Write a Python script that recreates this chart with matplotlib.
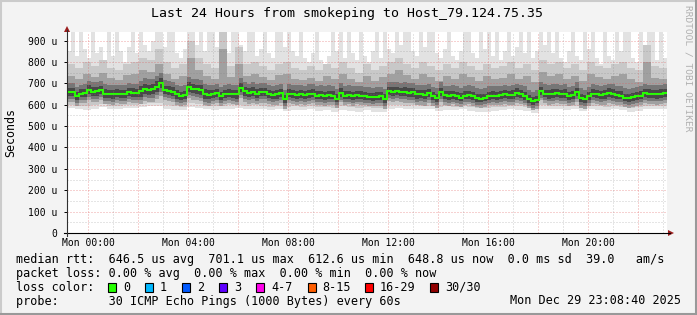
import numpy as np
import matplotlib
matplotlib.use("Agg")
import matplotlib.pyplot as plt
from matplotlib.patches import Rectangle, Polygon
from matplotlib.lines import Line2D

# ---------------- data ----------------
title = "Last 24 Hours from smokeping to Host_79.124.75.35"
y_label = "Seconds"
watermark = "RRDTOOL / TOBI OETIKER"
x_tick_hours = [0, 4, 8, 12, 16, 20]
x_tick_labels = ["Mon 00:00", "Mon 04:00", "Mon 08:00", "Mon 12:00", "Mon 16:00", "Mon 20:00"]
y_ticks = [0, 100, 200, 300, 400, 500, 600, 700, 800, 900]
y_tick_labels = ["0", "100 u", "200 u", "300 u", "400 u", "500 u", "600 u", "700 u", "800 u", "900 u"]
y_max = 940
window_start_hour = -(51 + 20 / 60) / 60   # Sun 23:08:40 relative to Mon 00:00
window_hours = 24

# median rtt (us), 150 steps over the 24h window
median = [660, 658, 640, 652, 655, 670, 660, 662, 668, 652,
          650, 648, 652, 650, 648, 660, 656, 654, 662, 675,
          670, 672, 685, 700, 668, 665, 660, 648, 640, 645,
          682, 675, 672, 668, 650, 646, 650, 655, 640, 648,
          652, 650, 648, 680, 662, 655, 660, 652, 658, 658,
          650, 646, 648, 655, 625, 652, 650, 646, 648, 645,
          650, 652, 643, 645, 640, 644, 642, 628, 655, 643,
          645, 640, 644, 642, 640, 637, 635, 638, 640, 628,
          662, 660, 662, 658, 660, 656, 658, 648, 650, 646,
          655, 640, 632, 660, 645, 642, 645, 640, 632, 643,
          645, 640, 630, 628, 632, 640, 642, 640, 645, 648,
          644, 646, 655, 650, 640, 625, 615, 622, 662, 650,
          648, 652, 654, 650, 652, 640, 645, 660, 632, 625,
          640, 652, 650, 645, 648, 655, 652, 645, 643, 632,
          630, 635, 640, 642, 655, 652, 650, 648, 652, 655]

# highest ping per step (us)
ping_max = [850, 960, 830, 960, 860, 820, 960, 840, 870, 810,
            960, 830, 960, 850, 800, 870, 960, 840, 960, 880,
            850, 900, 960, 960, 870, 960, 960, 840, 820, 860,
            960, 960, 880, 960, 850, 960, 960, 870, 960, 900,
            840, 960, 960, 880, 850, 960, 960, 830, 860, 960,
            840, 820, 960, 960, 870, 960, 850, 830, 960, 820,
            800, 840, 960, 810, 790, 830, 960, 850, 960, 820,
            960, 840, 810, 960, 830, 800, 850, 960, 820, 960,
            860, 840, 960, 880, 960, 960, 850, 830, 960, 870,
            960, 960, 840, 820, 860, 960, 830, 810, 850, 960,
            960, 840, 820, 960, 860, 960, 830, 960, 810, 850,
            960, 830, 870, 960, 840, 960, 820, 850, 960, 880,
            960, 840, 960, 820, 800, 850, 960, 830, 810, 960,
            860, 960, 820, 790, 960, 830, 810, 960, 850, 960,
            960, 820, 800, 960, 840, 960, 960, 810, 960, 820]

# 75 values (two steps each): ~93rd / ~85th / ~10th percentile and lowest ping (us)
ping_p93 = [790, 770, 800, 780, 810, 770, 760, 790, 800, 820,
            810, 860, 800, 770, 790, 900, 820, 790, 770, 940,
            780, 870, 790, 800, 780, 760, 790, 800, 770, 760,
            780, 760, 790, 770, 800, 770, 750, 790, 760, 780,
            800, 820, 790, 770, 800, 780, 760, 790, 770, 800,
            780, 760, 790, 770, 780, 800, 770, 790, 760, 810,
            790, 800, 770, 790, 760, 800, 780, 770, 790, 800,
            770, 760, 880, 780, 770]
ping_p85 = [735, 720, 745, 730, 750, 725, 715, 740, 745, 760,
            755, 790, 745, 720, 735, 820, 760, 735, 720, 860,
            730, 790, 735, 745, 730, 715, 740, 745, 720, 715,
            725, 712, 735, 720, 745, 718, 705, 735, 712, 728,
            745, 760, 738, 720, 742, 728, 712, 735, 718, 745,
            728, 710, 735, 718, 725, 745, 718, 735, 708, 755,
            735, 745, 718, 735, 710, 745, 728, 718, 735, 745,
            718, 708, 800, 725, 718]
ping_p10 = [600, 596, 592, 598, 602, 596, 594, 598, 600, 604,
            606, 610, 598, 592, 590, 606, 602, 596, 592, 596,
            598, 600, 594, 598, 596, 590, 594, 588, 592, 590,
            594, 588, 590, 586, 592, 588, 585, 590, 586, 584,
            598, 600, 596, 598, 594, 596, 588, 592, 590, 594,
            588, 586, 584, 588, 590, 594, 592, 588, 578, 598,
            594, 596, 592, 594, 588, 596, 592, 590, 594, 590,
            586, 588, 594, 596, 594]
ping_min = [585, 580, 575, 582, 588, 580, 578, 584, 586, 590,
            592, 594, 582, 576, 574, 590, 586, 580, 576, 580,
            582, 585, 578, 582, 580, 574, 578, 570, 576, 574,
            578, 570, 574, 568, 576, 570, 566, 574, 568, 566,
            582, 585, 580, 582, 578, 580, 572, 576, 574, 578,
            572, 568, 566, 570, 574, 578, 576, 570, 560, 582,
            578, 580, 576, 578, 570, 580, 576, 574, 578, 574,
            568, 570, 578, 580, 578]

# hourly spread of the inner percentiles around the median (us), 25 values
below_p25 = [46, 48, 46, 58, 48, 52, 46, 50, 48, 46, 46, 44, 42,
             46, 50, 46, 44, 42, 46, 42, 48, 46, 48, 44, 48]
below_p40 = [32, 34, 32, 40, 34, 36, 32, 34, 33, 32, 32, 31, 30,
             32, 34, 32, 31, 30, 32, 30, 33, 32, 33, 31, 33]
below_p45 = [18, 20, 18, 24, 20, 21, 18, 20, 19, 18, 18, 17, 16,
             18, 20, 18, 17, 16, 18, 16, 19, 18, 19, 17, 19]
above_p55 = [20, 21, 20, 24, 21, 22, 20, 21, 20, 20, 21, 21, 20,
             21, 21, 20, 21, 20, 21, 20, 21, 20, 21, 20, 20]
above_p75 = [42, 44, 42, 48, 46, 46, 44, 44, 42, 44, 46, 46, 44,
             44, 44, 44, 46, 46, 44, 46, 44, 44, 44, 44, 42]

legend_rows = [
    "median rtt:  646.5 us avg  701.1 us max  612.6 us min  648.8 us now  0.0 ms sd  39.0   am/s",
    "packet loss: 0.00 % avg  0.00 % max  0.00 % min  0.00 % now",
    "loss color:",
    "probe:       30 ICMP Echo Pings (1000 Bytes) every 60s",
]
loss_labels = ["0", "1", "2", "3", "4-7", "8-15", "16-29", "30/30"]
loss_colors = ["#26ff00", "#00b8ff", "#0059ff", "#5e00ff", "#ff00ea", "#ff5e00", "#ff0000", "#900000"]
date_text = "Mon Dec 29 23:08:40 2025"

# ---------------- figure ----------------
W, H = 697, 315
MONO = "DejaVu Sans Mono"
plt.rcParams["font.family"] = MONO

fig = plt.figure(figsize=(W / 100, H / 100), dpi=100, facecolor="#f3f3f3")

def fx(px):
    return px / W

def fy(py):
    return 1 - py / H

ax = fig.add_axes([fx(67), fy(233), fx(667) - fx(67), fy(32) - fy(233)])
ax.set_facecolor("white")

n = len(median)
step_h = window_hours / n
edges = window_start_hour + step_h * np.arange(n + 1)
med = np.asarray(median, dtype=float)

def ext(a):
    a = np.asarray(a, dtype=float)
    return np.append(a, a[-1])

def per_step(a):
    a = np.asarray(a, dtype=float)
    return np.repeat(a, n // len(a))

layers = [
    (per_step(ping_min), np.asarray(ping_max, float), "#e2e2e2"),
    (per_step(ping_p10), per_step(ping_p93), "#c8c8c8"),
    (med - per_step(below_p25), per_step(ping_p85), "#a0a0a0"),
    (med - per_step(below_p40), med + per_step(above_p75), "#767676"),
    (med - per_step(below_p45), med + per_step(above_p55), "#484848"),
]
for lo, hi, col in layers:
    ax.fill_between(edges, ext(lo), ext(hi), step="post", color=col,
                    linewidth=0, antialiased=False, zorder=1)

ax.step(edges, ext(med), where="post", color="#26ff00", lw=1.5, zorder=4,
        solid_joinstyle="miter")

ax.set_xlim(window_start_hour, window_start_hour + window_hours)
ax.set_ylim(0, y_max)

# grid (drawn above the data like rrdtool)
dots = (0, (1.0, 2.0))
for v in range(50, 950, 50):
    if v > y_max:
        break
    major = v % 100 == 0
    ax.axhline(v, color=(0.88, 0.35, 0.35, 0.55) if major else (0.5, 0.5, 0.5, 0.4),
               lw=0.72, linestyle=dots, zorder=5)
for h in range(0, 24):
    if h < window_start_hour or h > window_start_hour + window_hours:
        continue
    major = h % 2 == 0
    ax.axvline(h, color=(0.88, 0.35, 0.35, 0.55) if major else (0.5, 0.5, 0.5, 0.4),
               lw=0.72, linestyle=dots, zorder=5)

for s in ax.spines.values():
    s.set_visible(False)

ax.set_xticks(x_tick_hours, x_tick_labels)
ax.set_yticks(y_ticks, y_tick_labels)
ax.tick_params(axis="x", length=0, pad=3.5, labelsize=7.0, colors="black")
ax.tick_params(axis="y", length=2, width=0.7, direction="out", pad=5.0,
               labelsize=7.0, colors="black")

# axis lines and arrows
fig.add_artist(Line2D([fx(64), fx(670)], [fy(233), fy(233)], color="black", lw=0.8))
fig.add_artist(Line2D([fx(67), fx(67)], [fy(236), fy(30)], color="#303030", lw=0.8))
fig.add_artist(Polygon([[fx(64), fy(32)], [fx(70), fy(32)], [fx(67), fy(26)]],
                       closed=True, color="#9b1c1c", lw=0))
fig.add_artist(Polygon([[fx(668), fy(230)], [fx(668), fy(236)], [fx(674), fy(233)]],
                       closed=True, color="#9b1c1c", lw=0))

# texts
fig.text(fx(347), fy(13), title, ha="center", va="center", fontsize=9.5, color="black")
fig.text(fx(10.5), fy(132), y_label, ha="center", va="center", rotation=90,
         fontsize=8.4, color="black")
fig.text(fx(688), fy(5), watermark, ha="center", va="top", rotation=-90,
         fontsize=6.8, color="#b0b0b0")

row_y = [259.5, 273.5, 287.3, 301.0]
for txt, yy in zip(legend_rows, row_y):
    fig.text(fx(16), fy(yy), txt, ha="left", va="center", fontsize=8.5, color="black")
fig.text(fx(681), fy(row_y[3]), date_text, ha="right", va="center", fontsize=8.5,
         color="black")

box_x = [108, 145, 182, 219, 256, 307.5, 365, 430]
for bx, lab, col in zip(box_x, loss_labels, loss_colors):
    fig.add_artist(Rectangle((fx(bx), fy(row_y[2] + 4.5)), 8 / W, 9 / H,
                             facecolor=col, edgecolor="black", lw=0.8))
    fig.text(fx(bx + 15), fy(row_y[2]), lab, ha="left", va="center", fontsize=8.5,
             color="black")

# rrdtool 3D frame
fig.add_artist(Line2D([0, 1], [fy(0.5), fy(0.5)], color="#cbcbcb", lw=1.5))
fig.add_artist(Line2D([fx(0.5), fx(0.5)], [0, 1], color="#cbcbcb", lw=1.5))
fig.add_artist(Line2D([0, 1], [fy(H - 1), fy(H - 1)], color="#999999", lw=1.5))
fig.add_artist(Line2D([fx(W - 1), fx(W - 1)], [0, 1], color="#999999", lw=1.5))

fig.savefig("out.png", dpi=100, facecolor=fig.get_facecolor())
